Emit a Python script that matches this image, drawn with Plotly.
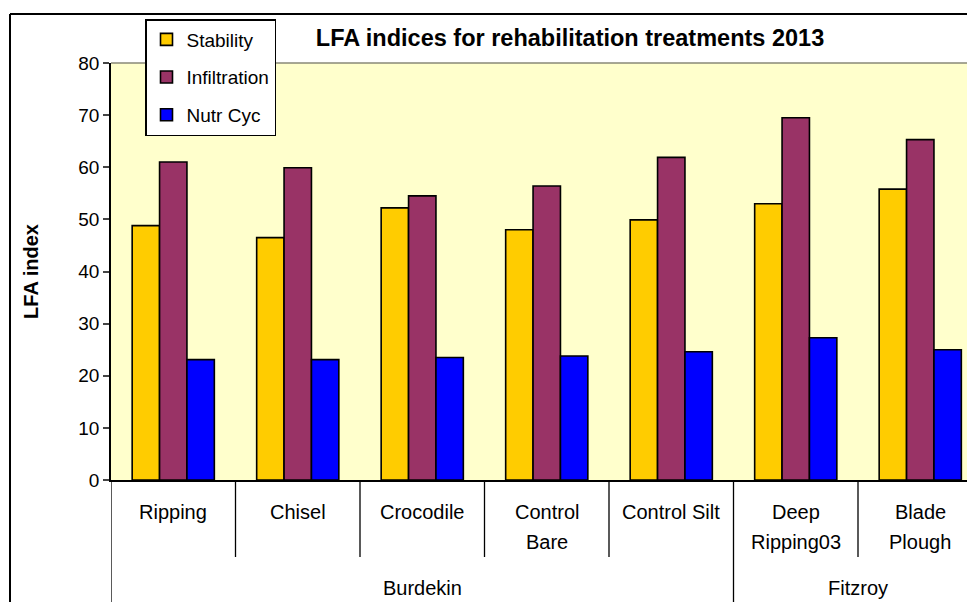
import plotly.graph_objects as go

# Chart data
categories = ["Ripping", "Chisel", "Crocodile", "Control<br>Bare", "Control Silt",
              "Deep<br>Ripping03", "Blade<br>Plough"]
regions = ["Burdekin", "Fitzroy"]
region_counts = [5, 2]

stability = [48.8, 46.5, 52.2, 48.0, 49.9, 53.0, 55.8]
infiltration = [61.0, 59.9, 54.5, 56.4, 61.9, 69.5, 65.3]
nutr_cyc = [23.1, 23.1, 23.5, 23.8, 24.6, 27.3, 25.0]

series = [("Stability", stability, "#FFCC00"),
          ("Infiltration", infiltration, "#993366"),
          ("Nutr Cyc", nutr_cyc, "#0000FF")]

# Plot area in pixels (used to place axis decorations)
W, H = 967, 602
left, top, bottom = 111, 63, 480
plot_h = bottom - top
plot_w = W - left
cat_w = 124.5

def py(pix):
    # pixel row -> paper y
    return (bottom - pix) / plot_h

def px_(pix):
    return (pix - left) / plot_w

x_idx = list(range(len(categories)))

fig = go.Figure()
for i, (name, vals, col) in enumerate(series):
    fig.add_trace(go.Bar(
        x=x_idx, y=vals, name=name, legendgroup=name,
        marker=dict(color=col, line=dict(color="black", width=1.6)),
    ))

# category labels (each line placed separately to mimic spacing)
for i, lab in enumerate(categories):
    for j, line in enumerate(lab.split("<br>")):
        fig.add_annotation(x=i, y=0, xref="x", yref="paper", text=line,
                           showarrow=False, yshift=-(32 + 30 * j),
                           yanchor="middle", font=dict(size=20))

# dividers between categories
start = 0
long_lines = [-0.5]
for c in region_counts:
    start += c
    long_lines.append(start - 0.5)
for k in range(len(categories)):
    xb = k - 0.5
    if xb in long_lines:
        continue
    fig.add_shape(type="line", xref="x", yref="paper", x0=xb, x1=xb,
                  y0=0, y1=py(557), line=dict(color="black", width=1.3))
for xb in long_lines:
    fig.add_shape(type="line", xref="x", yref="paper", x0=xb, x1=xb,
                  y0=0, y1=py(610), line=dict(color="black", width=1.3))

# region labels
start = 0
for name, c in zip(regions, region_counts):
    fig.add_annotation(x=start + (c - 1) / 2, y=0, xref="x", yref="paper",
                       text=name, showarrow=False, yshift=-(588 - bottom),
                       yanchor="middle", font=dict(size=20))
    start += c

# top border of plot area (grey) and outer chart frame
fig.add_shape(type="line", xref="paper", yref="paper", x0=0, x1=1.01, y0=1, y1=1,
              line=dict(color="#888877", width=1.5))
fig.add_shape(type="line", xref="paper", yref="paper", x0=px_(10), x1=1.01,
              y0=py(14), y1=py(14), line=dict(color="black", width=2))
fig.add_shape(type="line", xref="paper", yref="paper", x0=px_(10), x1=px_(10),
              y0=py(14), y1=py(610), line=dict(color="black", width=2))

fig.update_layout(
    width=W, height=H,
    barmode="group", bargap=0.34, bargroupgap=0,
    plot_bgcolor="#FFFFCC", paper_bgcolor="white",
    font=dict(family="Liberation Sans, Arial, sans-serif", size=19, color="black"),
    title=dict(text="<b>LFA indices for rehabilitation treatments 2013</b>",
               x=570 / W, xanchor="center", y=1 - 38 / H, yanchor="middle",
               font=dict(size=23.5)),
    margin=dict(l=left, r=0, t=top, b=H - bottom),
    showlegend=True,
    legend=dict(x=px_(145), y=py(19), xanchor="left", yanchor="top",
                bgcolor="white", bordercolor="black", borderwidth=1.5,
                tracegroupgap=10, font=dict(size=19)),
    xaxis=dict(range=[-0.5, -0.5 + plot_w / cat_w], showticklabels=False,
               showgrid=False, zeroline=False, showline=True,
               linecolor="black", linewidth=1.5, ticks=""),
    yaxis=dict(range=[0, 80], dtick=10, showgrid=False, zeroline=False,
               showline=True, linecolor="black", linewidth=1.5,
               ticks="outside", ticklen=6, tickwidth=1.5,
               title=dict(text="<b>LFA index</b>", standoff=34,
                          font=dict(size=20))),
)

# the page body has a default 8px margin; drop it so the figure fills the window
fig.write_html("out.html", config={"displayModeBar": False},
               post_script="document.body.style.margin='0';document.body.style.overflow='hidden';")
